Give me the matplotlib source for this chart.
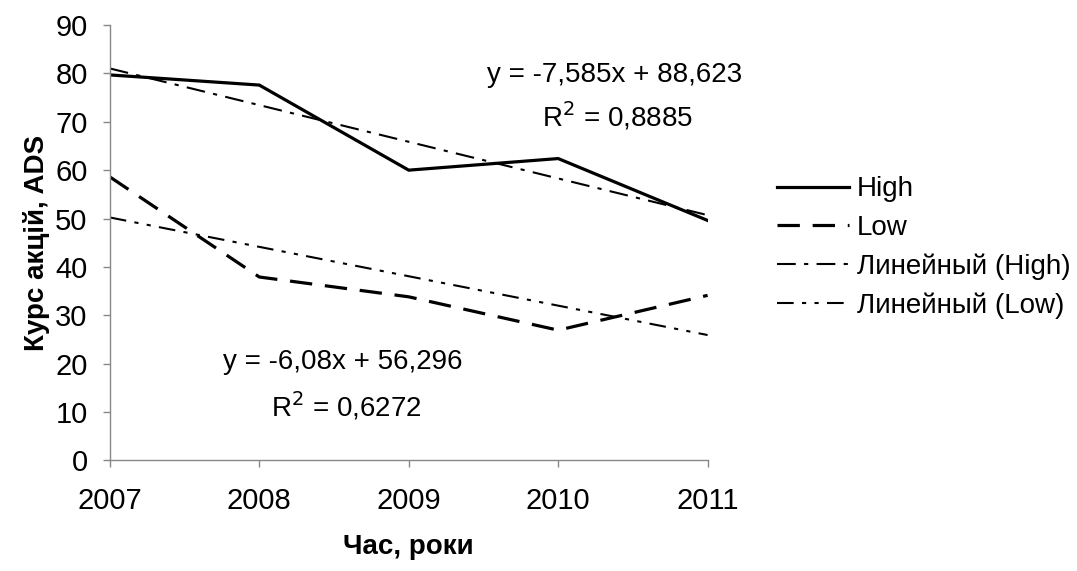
import numpy as np
import matplotlib
matplotlib.use("Agg")
import matplotlib.pyplot as plt

plt.rcParams['font.family'] = ['Liberation Sans', 'DejaVu Sans']

years = ['2007', '2008', '2009', '2010', '2011']
high = [79.7, 77.6, 60.0, 62.4, 49.6]
low = [58.6, 37.9, 33.8, 26.9, 34.1]

# trend coefficients as printed on the chart (x = 1..5)
trend_high = (-7.585, 88.623)
trend_low = (-6.08, 56.296)
r2_high = '0,8885'
r2_low = '0,6272'

x = np.arange(1, len(years) + 1)

fig = plt.figure(figsize=(10.77, 5.71), dpi=100)
ax = fig.add_axes([0.102, 0.194, 0.555, 0.762])

ax.plot(x, high, color='black', lw=2.3, label='High', solid_joinstyle='miter')
ax.plot(x, low, color='black', lw=2.3, ls=(0, (7, 4)), label='Low')
ax.plot(x, np.polyval(trend_high, x), color='black', lw=1.5,
        ls=(0, (9, 4, 2, 4)), label='Линейный (High)')
ax.plot(x, np.polyval(trend_low, x), color='black', lw=1.5,
        ls=(0, (8, 4, 2, 4, 2, 4)), label='Линейный (Low)')

ax.set_xlim(1, 5)
ax.set_ylim(0, 90)
ax.set_xticks(x)
ax.set_xticklabels(years)
ax.set_yticks(range(0, 91, 10))
for s in ['top', 'right']:
    ax.spines[s].set_visible(False)
for s in ['left', 'bottom']:
    ax.spines[s].set_color('#888888')
    ax.spines[s].set_linewidth(1.0)
ax.tick_params(axis='both', colors='#888888', labelcolor='black', labelsize=21,
               length=5, width=1.0)
ax.tick_params(axis='x', pad=14)
ax.tick_params(axis='y', pad=11)

ax.set_xlabel('Час, роки', fontsize=20, fontweight='bold', labelpad=14)
ax.set_ylabel('Курс акцій, ADS', fontsize=20, fontweight='bold', labelpad=4)

ax.text(4.38, 79.7, 'y = -7,585x + 88,623', fontsize=20, ha='center', va='center')
ax.text(4.4, 71.2, 'R$^2$ = ' + r2_high, fontsize=20, ha='center', va='center')
ax.text(2.56, 20.3, 'y = -6,08x + 56,296', fontsize=20, ha='center', va='center')
ax.text(2.58, 11.2, 'R$^2$ = ' + r2_low, fontsize=20, ha='center', va='center')

leg = ax.legend(loc='upper left', bbox_to_anchor=(1.097, 0.678), frameon=False,
                fontsize=20, handlelength=2.6, handletextpad=0.3,
                labelspacing=0.45, borderaxespad=0)

fig.savefig('out.png', dpi=100)
